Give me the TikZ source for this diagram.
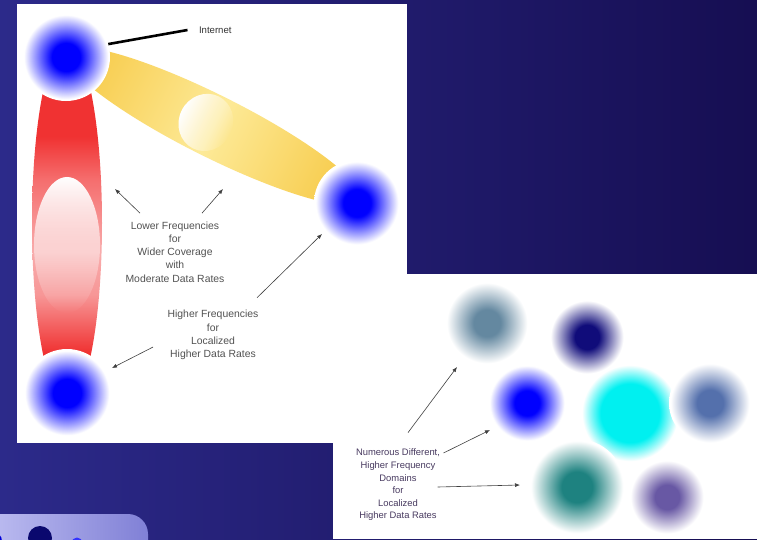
\documentclass[tikz,border=0pt]{standalone}
\usepackage{fontspec}
\setmainfont{Liberation Sans}
\usetikzlibrary{arrows.meta,fadings}

\definecolor{bgleft}{RGB}{44,42,138}
\definecolor{bgright}{RGB}{22,14,82}
\definecolor{redband}{RGB}{240,50,50}
\definecolor{redsoft}{RGB}{245,110,110}
\definecolor{pinkband}{RGB}{247,150,150}
\definecolor{pinklight}{RGB}{248,172,172}
\definecolor{goldband}{RGB}{246,198,62}
\definecolor{lightgold}{RGB}{253,234,152}
\definecolor{greytext}{RGB}{82,82,82}
\definecolor{plumtext}{RGB}{72,58,96}
\definecolor{slate}{RGB}{100,136,160}
\definecolor{navyblob}{RGB}{16,12,122}
\definecolor{cyanblob}{RGB}{0,240,240}
\definecolor{steelblob}{RGB}{84,112,172}
\definecolor{tealblob}{RGB}{30,130,128}
\definecolor{purpleblob}{RGB}{104,88,164}
\definecolor{pillleft}{RGB}{192,192,242}
\definecolor{pillright}{RGB}{128,128,214}
\definecolor{pillnavy}{RGB}{10,8,110}

\colorlet{blobcol}{blue}
\pgfdeclareradialshading[blobcol]{blob}{\pgfpoint{0bp}{0bp}}{color(0bp)=(blobcol); color(8bp)=(blobcol); color(24bp)=(white); color(50bp)=(white)}
\pgfdeclareradialshading[blobcol]{blobwide}{\pgfpoint{0bp}{0bp}}{color(0bp)=(blobcol); color(15bp)=(blobcol); color(24.5bp)=(white); color(50bp)=(white)}
\pgfdeclareverticalshading{redfade}{100bp}{color(0bp)=(redband); color(32bp)=(redband); color(40bp)=(pinkband); color(46bp)=(pinklight); color(56bp)=(redsoft); color(62bp)=(redband); color(100bp)=(redband)}

\begin{document}
\begin{tikzpicture}[x=1pt, y=-1pt,
    blob/.style 2 args={/utils/exec=\colorlet{blobcol}{#1}, shading=blob, circle, inner sep=0pt, minimum size=#2},
    wideblob/.style 2 args={/utils/exec=\colorlet{blobcol}{#1}, shading=blobwide, circle, inner sep=0pt, minimum size=#2},
    lefttext/.style={align=center, text=greytext, font=\fontsize{10.4}{13.25}\selectfont},
    righttext/.style={align=center, text=plumtext, font=\fontsize{9.4}{12.6}\selectfont},
    pointer/.style={-{Latex[length=5pt,width=4pt]}, line width=0.6pt, draw=black!75}]
\path[use as bounding box] (0,0) rectangle (757,539);
\begin{scope}
\clip (0,0) rectangle (757,539);
\shade[left color=bgleft, right color=bgright] (0,0) rectangle (757,539);
\fill[white] (17,4) rectangle (407,443);
\fill[white] (333,274) rectangle (757,539);
\shade[left color=pillleft, right color=pillright, rounded corners=20pt] (-20,514) rectangle (148,580);
\fill[blue!85!black] (-7,541) circle (9);
\fill[pillnavy] (40,538) circle (12);
\fill[blue!80] (77,543) circle (5.5);
\end{scope}

\shade[shading=redfade] (67,223) ellipse [x radius=35pt, y radius=180pt];
\fill[white, path fading=south] (67,245) ellipse [x radius=33pt, y radius=68pt];
\begin{scope}[transform canvas={shift={(213,126)}, rotate=-26.6}]
\shade[left color=goldband, right color=goldband, middle color=lightgold] (0,0) ellipse [x radius=165pt, y radius=31pt];
\fill[white, path fading=east] (-8,0) ellipse [x radius=27pt, y radius=29pt];
\end{scope}

\node[blob={blue}{88pt}] (top) at (66,57) {};
\node[blob={blue}{86pt}] (east) at (357,203) {};
\node[blob={blue}{88pt}] (south) at (67,393) {};

\node[anchor=west, text=black!80, font=\fontsize{9.6}{11}\selectfont] (inet) at (195.5,30) {Internet};
\draw[line width=2.6pt] (top.17) -- ([xshift=-8pt]inet.west);

\node[lefttext] (lowtxt) at (175,252) {Lower Frequencies\\for\\Wider Coverage\\with\\Moderate Data Rates};
\node[lefttext] (hightxt) at (213,335) {Higher Frequencies\\for\\Localized\\Higher Data Rates};
\coordinate (redtip) at (115,189);
\coordinate (goldtip) at (223,189);
\coordinate (easttip) at (322,234);
\coordinate (southtip) at (112,368);
\draw[pointer] ([xshift=-35pt,yshift=5pt]lowtxt.north) -- (redtip);
\draw[pointer] ([xshift=27pt,yshift=5pt]lowtxt.north) -- (goldtip);
\draw[pointer] ([xshift=44pt,yshift=9pt]hightxt.north) -- (easttip);
\draw[pointer] ([xshift=-11pt,yshift=-12pt]hightxt.west) -- (southtip);

\node[wideblob={cyanblob}{98pt}] (cyan) at (630,413) {};
\node[blob={slate}{84pt}] (slate) at (487,323) {};
\node[blob={navyblob}{76pt}] (navy) at (587,337) {};
\node[blob={blue}{78pt}] (blue) at (527,403) {};
\node[blob={steelblob}{82pt}] (steel) at (710,403) {};
\node[blob={tealblob}{96pt}] (teal) at (577,487) {};
\node[blob={purpleblob}{76pt}] (purple) at (667,497) {};

\node[righttext] (numtxt) at (398,485) {Numerous Different,\\Higher Frequency\\Domains\\for\\Localized\\Higher Data Rates};
\coordinate (slatetip) at (457,367);
\coordinate (bluetip) at (490,430);
\coordinate (tealtip) at (520,485);
\draw[pointer] ([xshift=10pt,yshift=13pt]numtxt.north) -- (slatetip);
\draw[pointer] ([yshift=32pt]numtxt.east) -- (bluetip);
\draw[pointer] ([xshift=-6pt,yshift=-2pt]numtxt.east) -- (tealtip);
\end{tikzpicture}
\end{document}
